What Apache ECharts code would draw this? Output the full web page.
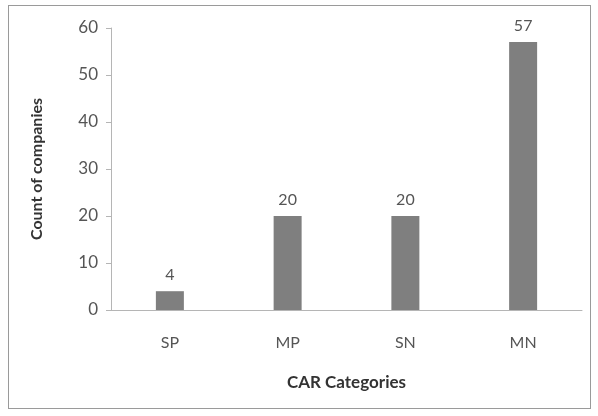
<!DOCTYPE html>
<html>
<head>
<meta charset="utf-8">
<script src="https://cdn.jsdelivr.net/npm/echarts@6/dist/echarts.min.js"></script>
<style>
  html, body { margin: 0; padding: 0; background: #fff; }
  #frame { position: absolute; left: 8px; top: 5px; width: 583px; height: 404px; border: 1px solid #9a9a9a; box-sizing: border-box; }
  #chart { width: 598px; height: 416px; }
</style>
</head>
<body>
<div id="frame"></div>
<div id="chart"></div>
<script>
// CAR category counts
const categories = ['SP', 'MP', 'SN', 'MN'];
const counts = [4, 20, 20, 57];
const yTicks = { min: 0, max: 60, interval: 10 };

const chart = echarts.init(document.getElementById('chart'));
const font = 'Lato, "Open Sans", sans-serif';
chart.setOption({
  animation: false,
  grid: { left: 111, right: 16, top: 28, bottom: 106 },
  xAxis: {
    type: 'category',
    data: categories,
    name: 'CAR Categories',
    nameLocation: 'middle',
    nameGap: 64,
    nameTextStyle: { color: '#333', fontSize: 17, fontWeight: 'bold', fontFamily: font },
    axisLine: { lineStyle: { color: '#b5b5b5' } },
    axisTick: { show: false },
    axisLabel: { color: '#555', fontSize: 16, fontFamily: font, margin: 25 }
  },
  yAxis: {
    type: 'value',
    min: yTicks.min, max: yTicks.max, interval: yTicks.interval,
    name: 'Count of companies',
    nameLocation: 'middle',
    nameGap: 66,
    nameTextStyle: { color: '#333', fontSize: 16, fontWeight: 'bold', fontFamily: font },
    axisLine: { show: true, lineStyle: { color: '#b5b5b5' } },
    axisTick: { show: true, length: 5, lineStyle: { color: '#b5b5b5' } },
    splitLine: { show: false },
    axisLabel: { color: '#555', fontSize: 17, fontFamily: font, margin: 13 }
  },
  series: [{
    type: 'bar',
    data: counts,
    barWidth: 28,
    itemStyle: { color: '#7f7f7f' },
    label: { show: true, position: 'top', distance: 8, color: '#555', fontSize: 16, fontFamily: font }
  }]
});
</script>
</body>
</html>
